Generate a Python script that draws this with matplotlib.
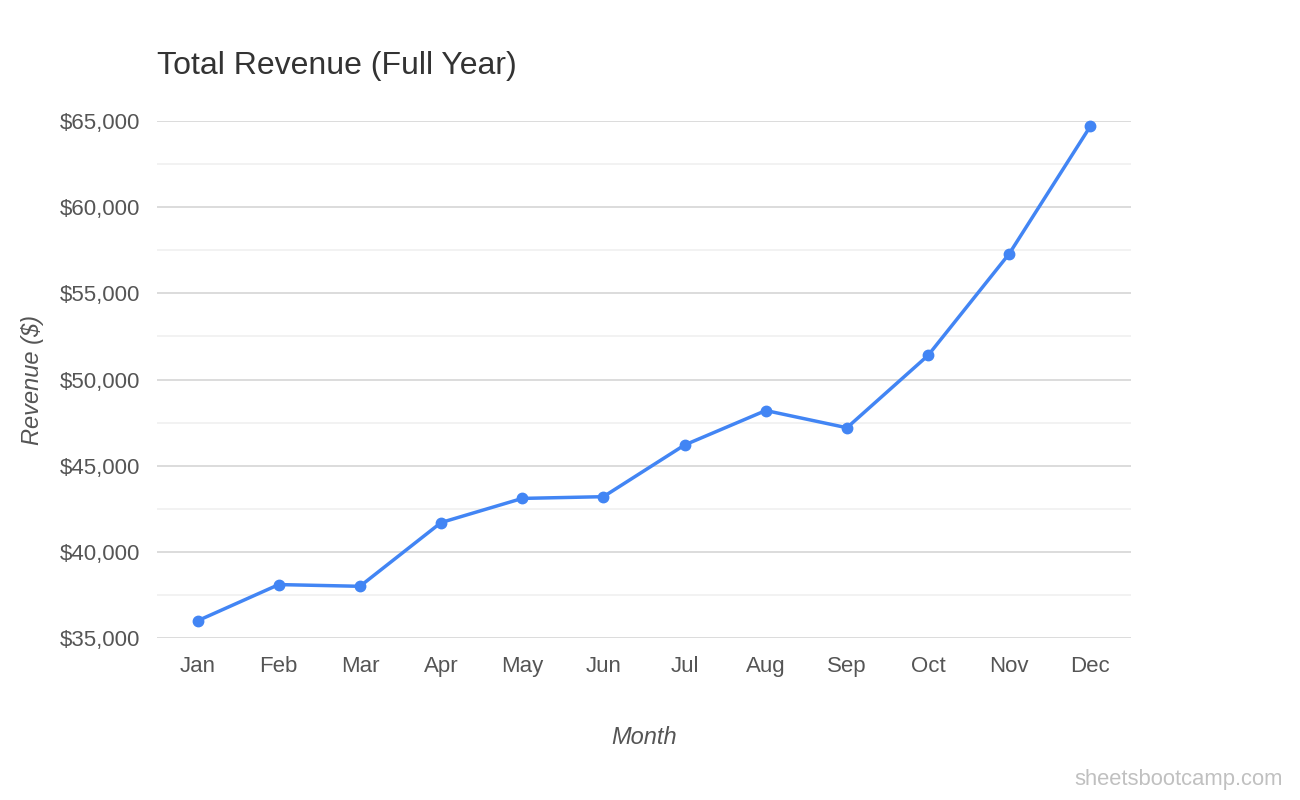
import matplotlib
matplotlib.use("Agg")
import matplotlib.pyplot as plt
from matplotlib.ticker import MultipleLocator, FuncFormatter

plt.rcParams['font.family'] = ['Liberation Sans', 'DejaVu Sans']

# data
months = ['Jan', 'Feb', 'Mar', 'Apr', 'May', 'Jun',
          'Jul', 'Aug', 'Sep', 'Oct', 'Nov', 'Dec']
revenue = [36000, 38100, 38000, 41700, 43100, 43200,
           46200, 48200, 47200, 51400, 57300, 64700]
y_ticks = [35000, 40000, 45000, 50000, 55000, 60000, 65000]

fig = plt.figure(figsize=(13, 8), dpi=100)
ax = fig.add_axes([0.1208, 0.2025, 0.7492, 0.64625])

x = list(range(len(months)))
ax.plot(x, revenue, color='#4285F4', linewidth=2.5, marker='o',
        markersize=7.5, zorder=3, clip_on=False)

ax.set_xlim(-0.5, len(months) - 0.5)
ax.set_ylim(y_ticks[0], y_ticks[-1])
ax.set_xticks(x)
ax.set_xticklabels(months)
ax.set_yticks(y_ticks)
ax.yaxis.set_minor_locator(MultipleLocator(2500))
ax.yaxis.set_major_formatter(FuncFormatter(lambda v, p: f'${v:,.0f}'))

# light gridlines, no spines or ticks
ax.grid(axis='y', which='major', color='#d6d6d6', linewidth=1.2)
ax.grid(axis='y', which='minor', color='#efefef', linewidth=1.1)
ax.set_axisbelow(True)
for side in ['top', 'right', 'left', 'bottom']:
    ax.spines[side].set_visible(False)
ax.tick_params(axis='both', which='both', length=0, labelsize=16,
               labelcolor='#555555')
ax.tick_params(axis='x', pad=13)
ax.tick_params(axis='y', pad=12)

fig.text(0.1208, 0.918, 'Total Revenue (Full Year)', fontsize=23,
         color='#333333', ha='left', va='center')
fig.text(0.025, 0.525, 'Revenue ($)', fontsize=17, style='italic',
         color='#555555', rotation=90, ha='center', va='center')
fig.text(0.4955, 0.0775, 'Month', fontsize=17, style='italic',
         color='#555555', ha='center', va='center')
fig.text(0.987, 0.025, 'sheetsbootcamp.com', fontsize=15.8,
         color='#c0c0c0', ha='right', va='center')

fig.savefig('out.png', dpi=100)
